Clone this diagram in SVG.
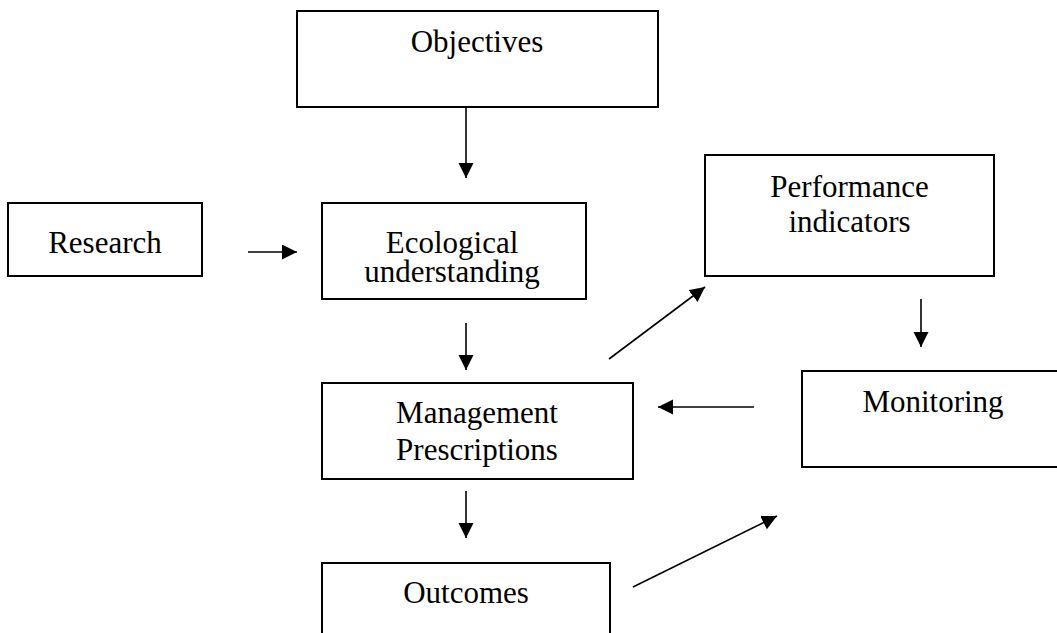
<svg xmlns="http://www.w3.org/2000/svg" width="1057" height="633" viewBox="0 0 1057 633">
<style>
.box{fill:#fff;stroke:#000;stroke-width:2}
.lbl{font-family:"Liberation Serif","Times New Roman",serif;font-size:31px;fill:#000;text-anchor:middle}
.conn{stroke:#000;stroke-width:1.6;fill:none;marker-end:url(#ah)}
</style>
<defs>
<marker id="ah" markerUnits="userSpaceOnUse" markerWidth="16" markerHeight="16" viewBox="0 0 16 16" refX="15" refY="7.5" orient="auto">
<path d="M0,0 L15,7.5 L0,15 z" fill="#000"/>
</marker>
</defs>
<rect width="1057" height="633" fill="#fff"/>
<g id="objectives"><rect class="box" x="297" y="11" width="361" height="96"/><text class="lbl" x="477" y="52">Objectives</text></g>
<g id="research"><rect class="box" x="8" y="203" width="194" height="73"/><text class="lbl" x="105" y="253">Research</text></g>
<g id="ecological"><rect class="box" x="322" y="203" width="264" height="96"/><text class="lbl" x="452" y="253">Ecological</text><text class="lbl" x="452" y="282">understanding</text></g>
<g id="performance"><rect class="box" x="705" y="155" width="289" height="121"/><text class="lbl" x="849.5" y="197">Performance</text><text class="lbl" x="849.5" y="232">indicators</text></g>
<g id="management"><rect class="box" x="322" y="383" width="311" height="96"/><text class="lbl" x="477" y="423">Management</text><text class="lbl" x="477" y="460">Prescriptions</text></g>
<g id="monitoring"><rect class="box" x="802" y="371" width="262" height="96"/><text class="lbl" x="933" y="412">Monitoring</text></g>
<g id="outcomes"><rect class="box" x="322" y="563" width="288" height="90"/><text class="lbl" x="466" y="603">Outcomes</text></g>
<g id="connectors">
<line class="conn" x1="466" y1="107" x2="466" y2="178"/>
<line class="conn" x1="248" y1="252" x2="297" y2="252"/>
<line class="conn" x1="466" y1="323" x2="466" y2="370"/>
<line class="conn" x1="466" y1="491" x2="466" y2="538"/>
<line class="conn" x1="609" y1="359" x2="705" y2="287"/>
<line class="conn" x1="921" y1="299" x2="921" y2="347"/>
<line class="conn" x1="754" y1="407" x2="658" y2="407"/>
<line class="conn" x1="633" y1="587" x2="777" y2="516"/>
</g>
</svg>
